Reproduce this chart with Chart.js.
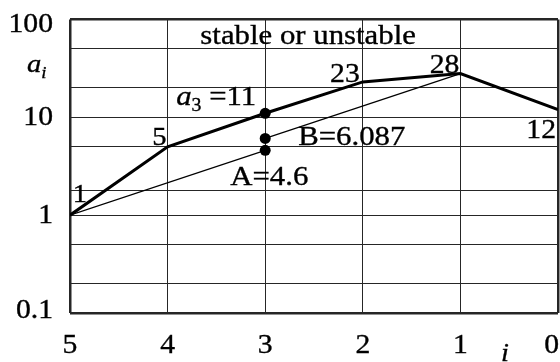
<!DOCTYPE html>
<html>
<head>
<meta charset="utf-8">
<title>a_i vs i</title>
<script src="https://cdn.jsdelivr.net/npm/chart.js@4/dist/chart.umd.min.js"></script>
<style>
  html, body { margin:0; padding:0; background:#fff; }
  #wrap { width:560px; height:362px; }
  .probe { position:absolute; left:-999px; top:0; font-family:"Liberation Serif"; }
</style>
</head>
<body>
<span class="probe">0</span><span class="probe" style="font-style:italic">a</span>
<div id="wrap"><canvas id="chart" width="560" height="362"></canvas></div>
<script>
// ================= DATA ==================
const STEPS    = [5, 4, 3, 2, 1, 0];        // i
const A_VALUES = [1, 5, 11, 23, 28, 12];    // a_i
const A_POINT  = [3, 4.6];                  // A
const B_POINT  = [3, 6.087];                // B = 28 / 4.6
const X_TICKS  = [5, 4, 3, 2, 1, 0];
const Y_LABELS = [100, 10, 1, 0.1];
const Y_GRID   = [0.1, 0.2, 0.5, 1, 1.77, 5, 10, 20, 50, 100];
const TITLE    = "stable or unstable";

// ================= STYLE ==================
const SERIF = '"Liberation Serif", serif';
const SX = 1.1;          // text is drawn a little wide
const GRID = "#262626";

const pt = (x, y) => ({ x, y });
const mainLine = STEPS.map((x, k) => pt(x, A_VALUES[k]));
const thinLow  = [pt(STEPS[0], A_VALUES[0]), pt(A_POINT[0], A_POINT[1])];
const thinHigh = [pt(B_POINT[0], B_POINT[1]), pt(STEPS[4], A_VALUES[4])];
const markers  = [pt(STEPS[2], A_VALUES[2]), pt(B_POINT[0], B_POINT[1]), pt(A_POINT[0], A_POINT[1])];

// ============== TEXT HELPERS ==============
function font(size, italic){ return `${italic ? "italic " : ""}${size}px ${SERIF}`; }
function txt(ctx, s, x, y, o = {}){
  ctx.save();
  ctx.font = font(o.size || 28, o.italic);
  ctx.textAlign = o.align || "left";
  ctx.textBaseline = o.base || "alphabetic";
  ctx.fillStyle = "#000";
  ctx.strokeStyle = "#000";
  ctx.lineWidth = 0.35;
  ctx.translate(x, y);
  ctx.scale(SX, 1);
  ctx.fillText(s, 0, 0);
  ctx.strokeText(s, 0, 0);
  ctx.restore();
}
function width(ctx, s, size, italic){
  ctx.save(); ctx.font = font(size, italic);
  const w = ctx.measureText(s).width * SX;
  ctx.restore();
  return w;
}
// symbol with a subscript, e.g. a_3 followed by a tail
function subText(ctx, base, sub, tail, x, y, size){
  const subSize = Math.round(size * 0.64);
  txt(ctx, base, x, y, { size, italic:true });
  x += width(ctx, base, size, true);
  txt(ctx, sub, x, y + 6, { size:subSize, italic: isNaN(sub) });
  x += width(ctx, sub, subSize, isNaN(sub));
  if (tail) txt(ctx, tail, x, y, { size });
}
const fmtNum = v => String(v);

// ============== LABELS PLUGIN ==============
const labelsPlugin = {
  id: "labels",
  afterDraw(chart){
    const { ctx, chartArea: a, scales: { x, y } } = chart;
    const W = chart.width, H = chart.height;

    // y tick labels
    Y_LABELS.forEach(v => {
      const py = Math.min(Math.max(y.getPixelForValue(v) + 1, a.top + 5), a.bottom - 2);
      txt(ctx, fmtNum(v), a.left - 17, py, { size:27, align:"right", base:"middle" });
    });
    // x tick labels
    X_TICKS.forEach(v => {
      let px = x.getPixelForValue(v);
      const half = width(ctx, fmtNum(v), 27) / 2;
      if (px + half > W - 1) px = W - 1 - half;
      txt(ctx, fmtNum(v), px, 353, { size:27, align:"center" });
    });

    // axis names
    subText(ctx, "a", "i", "", 27, 72, 26);
    txt(ctx, "i", a.right - 53, H - 1, { size:26, italic:true, align:"center" });

    // title inside the plot
    txt(ctx, TITLE, a.left + 0.488 * (a.right - a.left), a.top + 24, { size:28, align:"center" });

    // point labels on the a_i line
    const P = k => [x.getPixelForValue(STEPS[k]), y.getPixelForValue(A_VALUES[k])];
    let [px, py] = P(0);
    txt(ctx, fmtNum(A_VALUES[0]), px + 10, py - 13, { size:26, align:"center" });
    [px, py] = P(1);
    txt(ctx, fmtNum(A_VALUES[1]), px - 1, py - 2, { size:26, align:"right" });
    [px, py] = P(2);
    subText(ctx, "a", fmtNum(STEPS[2]), " =" + A_VALUES[2], px - 89, py - 8, 28);
    [px, py] = P(3);
    txt(ctx, fmtNum(A_VALUES[3]), px - 3, py, { size:27, align:"right" });
    [px, py] = P(4);
    txt(ctx, fmtNum(A_VALUES[4]), px - 1, py - 1, { size:27, align:"right" });
    [px, py] = P(5);
    txt(ctx, fmtNum(A_VALUES[5]), px - 2, py + 28, { size:27, align:"right" });

    // A and B
    px = x.getPixelForValue(B_POINT[0]); py = y.getPixelForValue(B_POINT[1]);
    txt(ctx, "B=" + B_POINT[1], px + 33, py + 7, { size:28 });
    px = x.getPixelForValue(A_POINT[0]); py = y.getPixelForValue(A_POINT[1]);
    txt(ctx, "A=" + A_POINT[1], px - 35, py + 35, { size:28 });
  }
};

// ============== CHART ==============
const edge = (vals) => (c) => (c.tick && vals.includes(c.tick.value)) ? 2.5 : 1;

function draw(){
  new Chart(document.getElementById("chart").getContext("2d"), {
    type: "line",
    data: {
      datasets: [
        { data: mainLine, borderColor:"#000", borderWidth:3, pointRadius:0, tension:0 },
        { data: thinLow,  borderColor:"#000", borderWidth:1.2, pointRadius:0 },
        { data: thinHigh, borderColor:"#000", borderWidth:1.2, pointRadius:0 },
        { data: markers, showLine:false, pointRadius:5.5, pointBackgroundColor:"#000",
          pointBorderColor:"#000", pointBorderWidth:0 }
      ]
    },
    options: {
      responsive:false, animation:false,
      layout: { autoPadding:false, padding:{ top:19.5, right:2, left:0, bottom:0 } },
      plugins: { legend:{ display:false }, tooltip:{ enabled:false } },
      scales: {
        x: {
          type:"linear", reverse:true, min:0, max:5,
          ticks:{ display:false, stepSize:1 },
          afterBuildTicks: s => { s.ticks = X_TICKS.map(v => ({ value:v })); },
          afterFit: s => { s.height = 49; },
          grid:{ color:GRID, lineWidth: edge([0, 5]), drawTicks:false },
          border:{ display:false }
        },
        y: {
          type:"logarithmic", min:0.1, max:100,
          ticks:{ display:false },
          afterBuildTicks: s => { s.ticks = Y_GRID.map(v => ({ value:v })); },
          afterFit: s => { s.width = 70; },
          grid:{ color:GRID, lineWidth: edge([0.1, 100]), drawTicks:false },
          border:{ display:false }
        }
      }
    },
    plugins: [labelsPlugin]
  });
}

Promise.all([
  document.fonts.load('27px "Liberation Serif"'),
  document.fonts.load('italic 27px "Liberation Serif"')
]).then(draw, draw);
</script>
</body>
</html>
